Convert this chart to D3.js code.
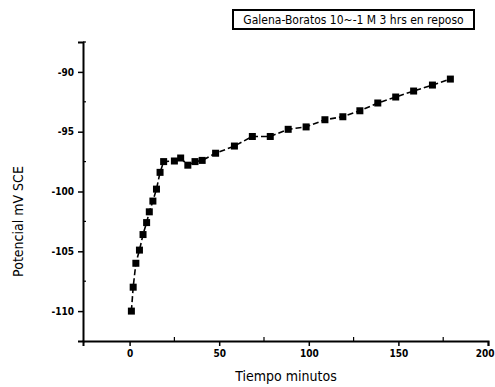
<!DOCTYPE html>
<html>
<head>
<meta charset="utf-8">
<script src="https://cdn.jsdelivr.net/npm/d3@7"></script>
<style>
  body { margin: 0; background: #fff; }
  text { font-family: "DejaVu Sans", sans-serif; font-stretch: condensed; fill: #000; }
</style>
</head>
<body>
<div id="chart"></div>
<script>
// tiempo (min) y potencial (mV SCE)
let tiempo = [1, 2, 3.5, 5.5, 7.5, 9.5, 11, 13, 15, 17, 19, 25, 28.5, 32.5, 36.5, 40.5,
    48, 58.5, 68.5, 78.5, 88.5, 98.5, 109, 119, 128.5, 138.5, 148.5, 158.5, 169, 179];
let potencial = [-110, -108, -106, -104.9, -103.6, -102.6, -101.7, -100.8, -99.8, -98.4, -97.5,
    -97.45, -97.2, -97.8, -97.5, -97.4, -96.8, -96.2, -95.4, -95.4, -94.8, -94.6, -94,
    -93.75, -93.25, -92.6, -92.1, -91.6, -91.1, -90.6];
let xTicks = [0, 50, 100, 150, 200];
let xMinor = [25, 75, 125, 175];
let yTicks = [-90, -95, -100, -105, -110];
let yMinor = [-87.5, -92.5, -97.5, -102.5, -107.5];
let titulo = "Galena-Boratos 10~-1 M 3 hrs en reposo";

let width = 495, height = 387;
let margin = {left: 83, right: 7, top: 42, bottom: 46};

let svg = d3.select("#chart").append("svg")
    .attr("width", width)
    .attr("height", height);

let x = d3.scaleLinear().domain([-26, 200]).range([margin.left, width - margin.right]);
let y = d3.scaleLinear().domain([-112.5, -87.5]).range([height - margin.bottom, margin.top]);

// ejes
let xAxis = svg.append("g")
    .attr("transform", `translate(0,${y(-112.5)})`)
    .call(d3.axisBottom(x).tickValues(xTicks).tickSize(5).tickPadding(4).tickFormat(d3.format("d")));
let yAxis = svg.append("g")
    .attr("transform", `translate(${x(-26)},0)`)
    .call(d3.axisLeft(y).tickValues(yTicks).tickSize(5).tickPadding(4).tickFormat(d => d));

[xAxis, yAxis].forEach(g => {
    g.select(".domain").attr("stroke", "#000").attr("stroke-width", 2);
    g.selectAll(".tick line").attr("stroke", "#000").attr("stroke-width", 1.5);
    g.selectAll(".tick text")
        .style("font-size", "10px")
        .style("font-weight", "bold")
        .style("font-family", "'DejaVu Sans', sans-serif")
        .style("font-stretch", "condensed");
});

// la ultima etiqueta queda pegada al borde
xAxis.selectAll(".tick text").filter(d => d === 200).attr("text-anchor", "end").attr("dx", "6");

svg.append("g").selectAll("line")
    .data(xMinor)
    .join("line")
    .attr("x1", d => x(d)).attr("x2", d => x(d))
    .attr("y1", y(-112.5)).attr("y2", y(-112.5) - 4)
    .attr("stroke", "#000").attr("stroke-width", 1.2);

svg.append("g").selectAll("line")
    .data(yMinor)
    .join("line")
    .attr("x1", x(-26)).attr("x2", x(-26) + 3)
    .attr("y1", d => y(d)).attr("y2", d => y(d))
    .attr("stroke", "#000").attr("stroke-width", 1.2);

// serie
let puntos = tiempo.map((t, i) => ({t: t, v: potencial[i]}));

svg.append("path")
    .datum(puntos)
    .attr("fill", "none")
    .attr("stroke", "#000")
    .attr("stroke-width", 1.6)
    .attr("stroke-dasharray", "6,3")
    .attr("d", d3.line().x(d => x(d.t)).y(d => y(d.v)));

svg.append("g").selectAll("rect")
    .data(puntos)
    .join("rect")
    .attr("x", d => x(d.t) - 3.5)
    .attr("y", d => y(d.v) - 3.5)
    .attr("width", 7)
    .attr("height", 7)
    .attr("fill", "#000");

// titulos
svg.append("text")
    .attr("x", 286)
    .attr("y", 381)
    .attr("text-anchor", "middle")
    .style("font-size", "14px")
    .text("Tiempo minutos");

svg.append("text")
    .attr("transform", `translate(23,${y(-100) + 30}) rotate(-90)`)
    .attr("text-anchor", "middle")
    .style("font-size", "14px")
    .text("Potencial mV SCE");

svg.append("rect")
    .attr("x", 233).attr("y", 10)
    .attr("width", 241).attr("height", 19)
    .attr("fill", "none")
    .attr("stroke", "#000")
    .attr("stroke-width", 2);

svg.append("text")
    .attr("x", 353.5)
    .attr("y", 24)
    .attr("text-anchor", "middle")
    .style("font-size", "12px")
    .text(titulo);
</script>
</body>
</html>
